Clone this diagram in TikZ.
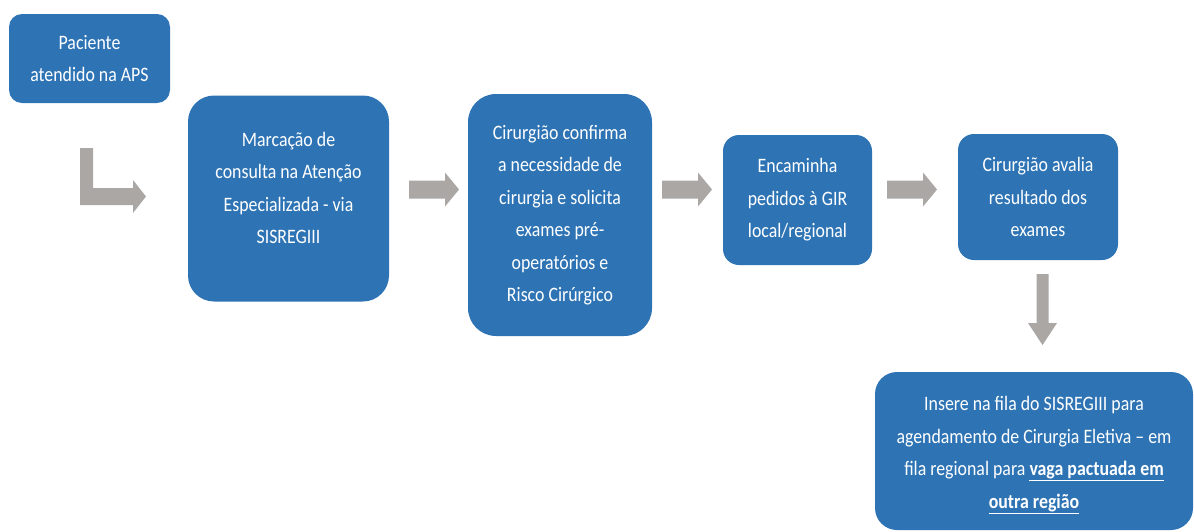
\documentclass[tikz,border=0pt]{standalone}
\usepackage{fontspec}
\setmainfont{Carlito}[FakeStretch=0.87]
\definecolor{boxblue}{RGB}{46,116,181}
\definecolor{arrowgray}{RGB}{170,167,165}
\tikzset{
  boxfont/.style={text=white, align=center, font=\fontsize{20.5}{32.5}\selectfont},
  box/.style={fill=boxblue, inner sep=0pt, boxfont},
  blockarrow/.style={fill=arrowgray, draw=none}
}
\begin{document}
\begin{tikzpicture}[x=1pt,y=-1pt]
\useasboundingbox (0,0) rectangle (1194,531);

% process boxes
\node[box, rounded corners=13pt, minimum width=161pt, minimum height=89pt]
  (aps) at (89.5,58.5) {Paciente\\atendido na APS};
\node[box, rounded corners=26pt, minimum width=201pt, minimum height=206pt,
  label={[boxfont, yshift=10.5pt]center:Marcação de\\consulta na Atenção\\Especializada - via\\SISREGIII}]
  (marc) at (288.5,198.5) {};
\node[box, rounded corners=28pt, minimum width=184pt, minimum height=242pt]
  (conf) at (560,215) {Cirurgião confirma\\a necessidade de\\cirurgia e solicita\\exames pré-\\operatórios e\\Risco Cirúrgico};
\node[box, rounded corners=16pt, minimum width=149pt, minimum height=130pt]
  (gir) at (797.5,200) {Encaminha\\pedidos à GIR\\local/regional};
\node[box, rounded corners=16pt, minimum width=160pt, minimum height=126pt]
  (aval) at (1038,197) {Cirurgião avalia\\resultado dos\\exames};
\node[box, rounded corners=22pt, minimum width=318pt, minimum height=158pt,
  label={[boxfont, yshift=-4pt]center:Insere na fila do SISREGIII para\\agendamento de Cirurgia Eletiva -- em\\fila regional para \textbf{\underline{vaga pactuada em}}\\\textbf{\underline{outra região}}}]
  (fila) at (1034,451) {};

% block arrows between the steps
\fill[blockarrow] (80,148) -- (93,148) -- (93,188) -- (133,188) -- (133,180)
  -- (146,196.5) -- (133,213) -- (133,205) -- (80,205) -- cycle;
\foreach \x in {409,662,887}{
  \fill[blockarrow] (\x,180.5) -- (\x+36,180.5) -- (\x+36,172.5) -- (\x+50,189.5)
    -- (\x+36,206.5) -- (\x+36,198.5) -- (\x,198.5) -- cycle;
}
\fill[blockarrow] (1036.5,274) -- (1048.5,274) -- (1048.5,323) -- (1057,323)
  -- (1042.5,345) -- (1028,323) -- (1036.5,323) -- cycle;
\end{tikzpicture}
\end{document}
